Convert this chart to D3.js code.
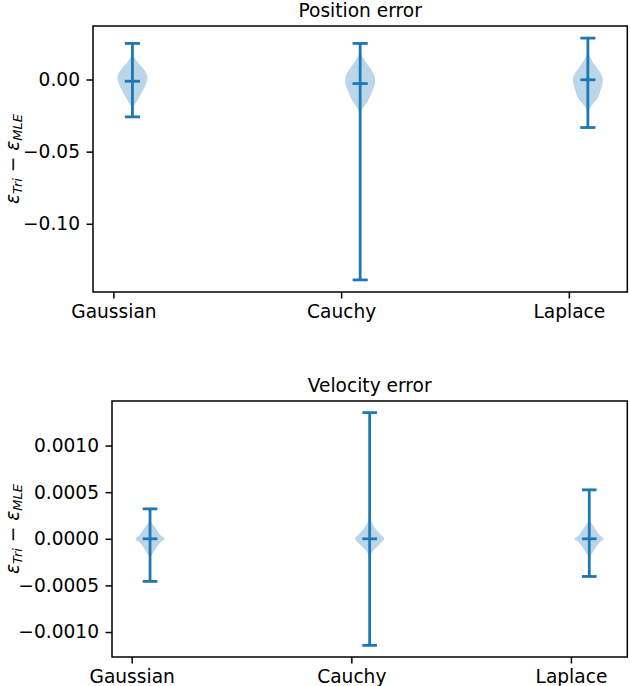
<!DOCTYPE html>
<html>
<head>
<meta charset="utf-8">
<script src="https://cdn.jsdelivr.net/npm/d3@7"></script>
<style>
  body { margin: 0; background: #fff; }
  svg { display: block; font-family: "DejaVu Sans", sans-serif; }
</style>
</head>
<body>
<svg width="630" height="686"></svg>
<script>
const categories = ['Gaussian', 'Cauchy', 'Laplace'];
const tickPositions = [1, 2, 3];
const violinPositions = [1.0835, 2.0835, 3.0835];
const violinWidth = 0.133;

// position error panel
const posMax = [0.0250, 0.0250, 0.0287];
const posMin = [-0.0259, -0.1389, -0.0333];
const posMedian = [-0.0012, -0.0028, -0.0002];
const posTicks = [0.00, -0.05, -0.10];
const posDensityY = [
  [0.025, 0.020, 0.017, 0.014, 0.011, 0.008, 0.004, 0.001, -0.003, -0.007, -0.011, -0.015, -0.018, -0.021, -0.0259],
  [0.025, 0.020, 0.017, 0.014, 0.011, 0.007, 0.003, -0.001, -0.005, -0.009, -0.013, -0.017, -0.020, -0.023, -0.030, -0.050, -0.1389],
  [0.0287, 0.022, 0.018, 0.015, 0.012, 0.008, 0.004, 0.000, -0.004, -0.008, -0.012, -0.016, -0.019, -0.022, -0.027, -0.0333]
];
const posDensityW = [
  [0, 0.02, 0.08, 0.22, 0.42, 0.68, 0.92, 1.0, 0.9, 0.72, 0.52, 0.3, 0.12, 0.03, 0],
  [0, 0.02, 0.1, 0.25, 0.45, 0.72, 0.93, 1.0, 0.92, 0.76, 0.6, 0.38, 0.18, 0.06, 0.015, 0.004, 0],
  [0, 0.01, 0.06, 0.18, 0.33, 0.6, 0.87, 1.0, 0.93, 0.82, 0.7, 0.42, 0.18, 0.05, 0.01, 0]
];

// velocity error panel
const velMax = [0.000321, 0.001353, 0.000525];
const velMin = [-0.000457, -0.001143, -0.000404];
const velMedian = [0, 0, 0];
const velTicks = [0.0010, 0.0005, 0.0000, -0.0005, -0.0010];
const velDensityY = [
  [0.000321, 0.00025, 0.0002, 0.00017, 0.00013, 0.000086, 0.00004, 0, -0.00004, -0.000086, -0.00013, -0.00017, -0.0002, -0.00025, -0.00035, -0.000457],
  [0.001353, 0.0005, 0.0003, 0.00019, 0.0001, 0.000046, 0, -0.00006, -0.000114, -0.00017, -0.00025, -0.0005, -0.001143],
  [0.000525, 0.0003, 0.0002, 0.00017, 0.00013, 0.000086, 0.00004, 0, -0.00004, -0.000086, -0.00013, -0.00017, -0.0002, -0.0003, -0.000404]
];
const velDensityW = [
  [0, 0.01, 0.05, 0.13, 0.32, 0.5, 0.7, 1.0, 0.7, 0.48, 0.3, 0.12, 0.04, 0.01, 0.003, 0],
  [0, 0.003, 0.01, 0.1, 0.44, 0.75, 1.0, 0.66, 0.32, 0.07, 0.015, 0.003, 0],
  [0, 0.005, 0.04, 0.13, 0.32, 0.5, 0.7, 1.0, 0.7, 0.48, 0.3, 0.12, 0.04, 0.005, 0]
];

const blue = '#1f77b4';
const fontSize = 18.6;
const svg = d3.select('svg');

function drawPanel(box, title, maxs, mins, medians, ticks, fmt, densY, densW) {
  const g = svg.append('g');

  // autoscale with 5% margins like matplotlib
  const xLo = d3.min(violinPositions) - violinWidth / 2;
  const xHi = d3.max(violinPositions) + violinWidth / 2;
  const xPad = (xHi - xLo) * 0.05;
  const x = d3.scaleLinear().domain([xLo - xPad, xHi + xPad]).range([box.left, box.right]);

  const yLo = d3.min(mins), yHi = d3.max(maxs);
  const yPad = (yHi - yLo) * 0.05;
  const y = d3.scaleLinear().domain([yLo - yPad, yHi + yPad]).range([box.bottom, box.top]);

  const half = violinWidth / 2;

  // bodies
  categories.forEach((c, i) => {
    const pts = densY[i].map((v, k) => ({ v: v, w: densW[i][k] }));
    const area = d3.area()
      .y(d => y(d.v))
      .x0(d => x(violinPositions[i] - d.w * half))
      .x1(d => x(violinPositions[i] + d.w * half))
      .curve(d3.curveCatmullRom.alpha(0.5));
    g.append('path')
      .attr('d', area(pts))
      .attr('fill', blue)
      .attr('fill-opacity', 0.3);
  });

  // bars, caps, medians
  const lw = 2.8;
  categories.forEach((c, i) => {
    const p = violinPositions[i];
    g.append('line')
      .attr('x1', x(p)).attr('x2', x(p))
      .attr('y1', y(maxs[i])).attr('y2', y(mins[i]))
      .attr('stroke', blue).attr('stroke-width', lw);
    [maxs[i], mins[i], medians[i]].forEach(v => {
      g.append('line')
        .attr('x1', x(p - half / 2)).attr('x2', x(p + half / 2))
        .attr('y1', y(v)).attr('y2', y(v))
        .attr('stroke', blue).attr('stroke-width', lw);
    });
  });

  // axes
  const xAxis = d3.axisBottom(x)
    .tickValues(tickPositions)
    .tickFormat((d, i) => categories[i])
    .tickSize(6.5).tickPadding(6.5);
  const yAxis = d3.axisLeft(y)
    .tickValues(ticks)
    .tickFormat(d3.format(fmt))
    .tickSize(6.5).tickPadding(6.5);

  const gx = g.append('g').attr('transform', `translate(0,${box.bottom})`).call(xAxis);
  const gy = g.append('g').attr('transform', `translate(${box.left},0)`).call(yAxis);
  [gx, gy].forEach(a => {
    a.select('.domain').remove();
    a.selectAll('line').attr('stroke', '#000').attr('stroke-width', 1.5);
    a.selectAll('text')
      .attr('fill', '#000')
      .style('font-size', fontSize + 'px')
      .style('font-family', '"DejaVu Sans", sans-serif');
  });

  g.append('rect')
    .attr('x', box.left).attr('y', box.top)
    .attr('width', box.right - box.left).attr('height', box.bottom - box.top)
    .attr('fill', 'none').attr('stroke', '#000').attr('stroke-width', 1.5);

  g.append('text')
    .attr('x', (box.left + box.right) / 2)
    .attr('y', box.top - 9.5)
    .attr('text-anchor', 'middle')
    .style('font-size', fontSize + 'px')
    .text(title);

  // y label: epsilon_Tri - epsilon_MLE
  const lab = g.append('text')
    .attr('transform', `translate(18.5,${(box.top + box.bottom) / 2}) rotate(-90)`)
    .attr('text-anchor', 'middle')
    .style('font-size', fontSize + 'px');
  lab.append('tspan').attr('font-style', 'italic').text('ε');
  lab.append('tspan').attr('font-style', 'italic').attr('font-size', 13).attr('dy', 3.5).text('Tri');
  lab.append('tspan').attr('dy', -3.5).text(' − ');
  lab.append('tspan').attr('font-style', 'italic').text('ε');
  lab.append('tspan').attr('font-style', 'italic').attr('font-size', 13).attr('dy', 3.5).text('MLE');
}

drawPanel({ left: 93, right: 627.3, top: 26, bottom: 292 }, 'Position error',
  posMax, posMin, posMedian, posTicks, '.2f', posDensityY, posDensityW);
drawPanel({ left: 112, right: 627.3, top: 401, bottom: 657 }, 'Velocity error',
  velMax, velMin, velMedian, velTicks, '.4f', velDensityY, velDensityW);
</script>
</body>
</html>
